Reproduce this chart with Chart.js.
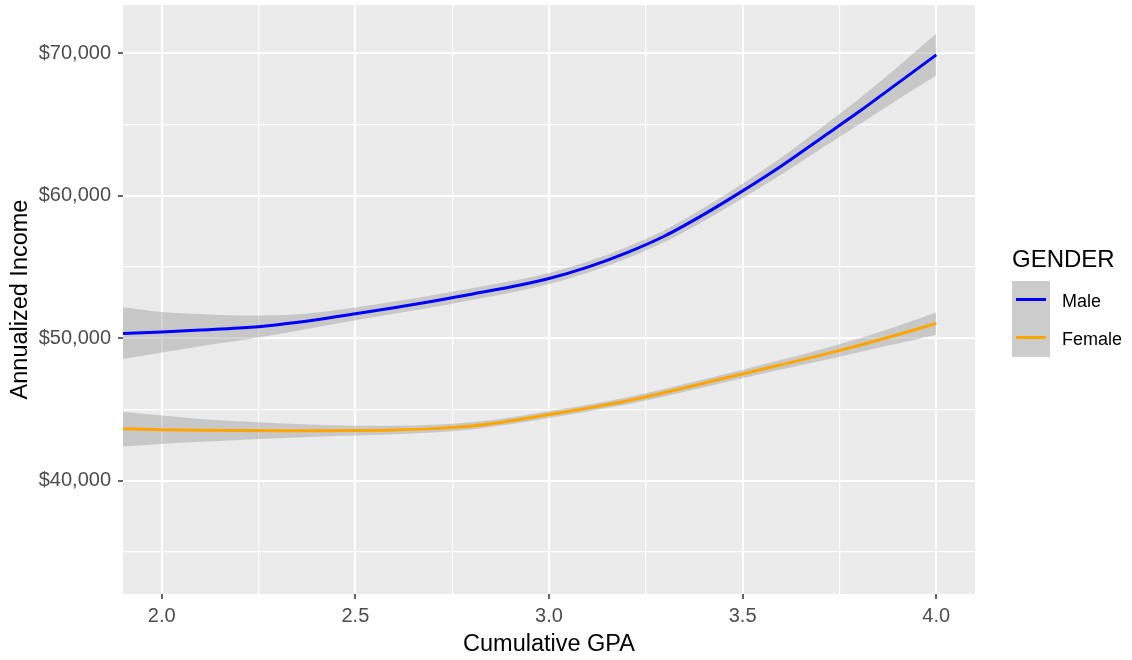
<!DOCTYPE html>
<html>
<head>
<meta charset="utf-8">
<script src="https://cdn.jsdelivr.net/npm/chart.js@4/dist/chart.umd.min.js"></script>
<style>
    html, body { margin: 0; padding: 0; background: #ffffff; }
    #wrap { position: relative; width: 1132px; height: 660px; }
</style>
</head>
<body>
<div id="wrap"><canvas id="gpa_chart" width="1132" height="660"></canvas></div>
<script>
// 数据：GPA 与收入的平滑拟合
const gpa = [1.9, 2.0, 2.1, 2.2, 2.3, 2.4, 2.5, 2.6, 2.7, 2.8, 2.9, 3.0,
             3.1, 3.2, 3.3, 3.4, 3.5, 3.6, 3.7, 3.8, 3.9, 4.0];

const maleIncome = [50330, 50450, 50580, 50720, 50960, 51300, 51720, 52150, 52600, 53100, 53600, 54200,
                    55000, 56000, 57200, 58700, 60350, 62100, 64000, 65900, 67900, 69900];
const maleLower = [48550, 49000, 49450, 49850, 50280, 50770, 51270, 51720, 52180, 52690, 53200, 53810,
                   54610, 55600, 56780, 58240, 59830, 61500, 63280, 65000, 66750, 68450];
const maleUpper = [52180, 51850, 51700, 51600, 51620, 51820, 52170, 52580, 53020, 53510, 54000, 54590,
                   55390, 56400, 57620, 59160, 60870, 62700, 64720, 66800, 69050, 71400];

const femaleIncome = [43650, 43580, 43540, 43520, 43510, 43510, 43520, 43560, 43660, 43850, 44200, 44650,
                      45100, 45600, 46200, 46850, 47500, 48150, 48800, 49500, 50250, 51050];
const femaleLower = [42400, 42580, 42740, 42870, 42990, 43090, 43170, 43260, 43390, 43600, 43960, 44410,
                     44860, 45350, 45940, 46570, 47200, 47810, 48400, 49020, 49630, 50250];
const femaleUpper = [44850, 44580, 44340, 44170, 44030, 43930, 43870, 43860, 43930, 44100, 44440, 44890,
                     45340, 45850, 46460, 47130, 47800, 48490, 49200, 49980, 50870, 51820];

const xTicks = [2.0, 2.25, 2.5, 2.75, 3.0, 3.25, 3.5, 3.75, 4.0];
const xMajor = [2.0, 2.5, 3.0, 3.5, 4.0];
const yTicks = [35000, 40000, 45000, 50000, 55000, 60000, 65000, 70000];
const yMajor = [40000, 50000, 60000, 70000];

const seriesNames = ["Male", "Female"];
const seriesColors = ["#0000ff", "#ffa500"];
const legendTitle = "GENDER";

const BAND_FILL = "rgba(153, 153, 153, 0.42)";
const PANEL_BG = "#ebebeb";
const FONT_FAMILY = "'Liberation Sans', Arial, sans-serif";

function toPoints(values) {
    return gpa.map((x, i) => ({ x: x, y: values[i] }));
}

function isMajor(list, value) {
    return list.some((v) => Math.abs(v - value) < 1e-6);
}

// 面板灰色背景
const panelPlugin = {
    id: "panelPlugin",
    beforeDraw(chart) {
        const { ctx, chartArea } = chart;
        ctx.save();
        ctx.fillStyle = PANEL_BG;
        ctx.fillRect(chartArea.left, chartArea.top,
            chartArea.right - chartArea.left, chartArea.bottom - chartArea.top);
        ctx.restore();
    },
};

// ggplot 风格图例
const legendPlugin = {
    id: "legendPlugin",
    afterDraw(chart) {
        const { ctx } = chart;
        ctx.save();
        ctx.fillStyle = "#000000";
        ctx.font = "24px " + FONT_FAMILY;
        ctx.textBaseline = "alphabetic";
        ctx.fillText(legendTitle, 1012, 267);

        seriesNames.forEach((name, i) => {
            const top = 281 + i * 38;
            ctx.fillStyle = "#f2f2f2";
            ctx.fillRect(1012, top, 38, 38);
            ctx.fillStyle = BAND_FILL;
            ctx.fillRect(1012, top, 38, 38);
            ctx.strokeStyle = seriesColors[i];
            ctx.lineWidth = 3;
            ctx.beginPath();
            ctx.moveTo(1016, top + 18.5);
            ctx.lineTo(1046, top + 18.5);
            ctx.stroke();
            ctx.fillStyle = "#000000";
            ctx.font = "18px " + FONT_FAMILY;
            ctx.fillText(name, 1062, top + 26);
        });
        ctx.restore();
    },
};

function bandDataset(values, fillTarget) {
    return {
        data: toPoints(values),
        borderWidth: 0,
        pointRadius: 0,
        backgroundColor: BAND_FILL,
        fill: fillTarget,
        cubicInterpolationMode: "monotone",
        order: 1,
    };
}

function lineDataset(values, color) {
    return {
        data: toPoints(values),
        borderColor: color,
        borderWidth: 3,
        pointRadius: 0,
        fill: false,
        cubicInterpolationMode: "monotone",
        order: 0,
    };
}

const tickFont = { family: FONT_FAMILY, size: 20 };
const titleFont = { family: FONT_FAMILY, size: 23.5 };

new Chart(document.getElementById("gpa_chart").getContext("2d"), {
    type: "line",
    data: {
        datasets: [
            bandDataset(maleLower, false),
            bandDataset(maleUpper, 0),
            bandDataset(femaleLower, false),
            bandDataset(femaleUpper, 2),
            lineDataset(maleIncome, seriesColors[0]),
            lineDataset(femaleIncome, seriesColors[1]),
        ],
    },
    options: {
        responsive: false,
        animation: false,
        events: [],
        layout: { padding: { top: 5, right: 157, bottom: 0, left: 0 } },
        plugins: {
            legend: { display: false },
            tooltip: { enabled: false },
        },
        scales: {
            x: {
                type: "linear",
                min: 1.9,
                max: 4.1,
                afterBuildTicks(axis) {
                    axis.ticks = xTicks.map((v) => ({ value: v }));
                },
                afterFit(axis) {
                    axis.height = 66;
                    axis.paddingLeft = 0;
                    axis.paddingRight = 0;
                },
                border: { display: false },
                grid: {
                    color: "#ffffff",
                    lineWidth: (c) => (isMajor(xMajor, c.tick.value) ? 2 : 1.2),
                    tickColor: (c) => (isMajor(xMajor, c.tick.value) ? "#333333" : "rgba(0,0,0,0)"),
                    tickLength: 5,
                    tickWidth: 1.5,
                },
                ticks: {
                    autoSkip: false,
                    maxRotation: 0,
                    padding: 5,
                    color: "#4d4d4d",
                    font: tickFont,
                    callback: (v) => (isMajor(xMajor, v) ? v.toFixed(1) : ""),
                },
                title: {
                    display: true,
                    text: "Cumulative GPA",
                    color: "#000000",
                    font: titleFont,
                    padding: { top: 0, bottom: 1 },
                },
            },
            y: {
                type: "linear",
                min: 32050,
                max: 73400,
                afterBuildTicks(axis) {
                    axis.ticks = yTicks.map((v) => ({ value: v }));
                },
                afterFit(axis) {
                    axis.width = 123;
                    axis.paddingTop = 0;
                    axis.paddingBottom = 0;
                },
                border: { display: false },
                grid: {
                    color: "#ffffff",
                    lineWidth: (c) => (isMajor(yMajor, c.tick.value) ? 2 : 1.2),
                    tickColor: (c) => (isMajor(yMajor, c.tick.value) ? "#333333" : "rgba(0,0,0,0)"),
                    tickLength: 5,
                    tickWidth: 1.5,
                },
                ticks: {
                    autoSkip: false,
                    padding: 7,
                    color: "#4d4d4d",
                    font: tickFont,
                    callback: (v) => (isMajor(yMajor, v) ? "$" + v.toLocaleString("en-US") : ""),
                },
                title: {
                    display: true,
                    text: "Annualized Income",
                    color: "#000000",
                    font: titleFont,
                    padding: { top: 6, bottom: 0 },
                },
            },
        },
    },
    plugins: [panelPlugin, legendPlugin],
});
</script>
</body>
</html>
